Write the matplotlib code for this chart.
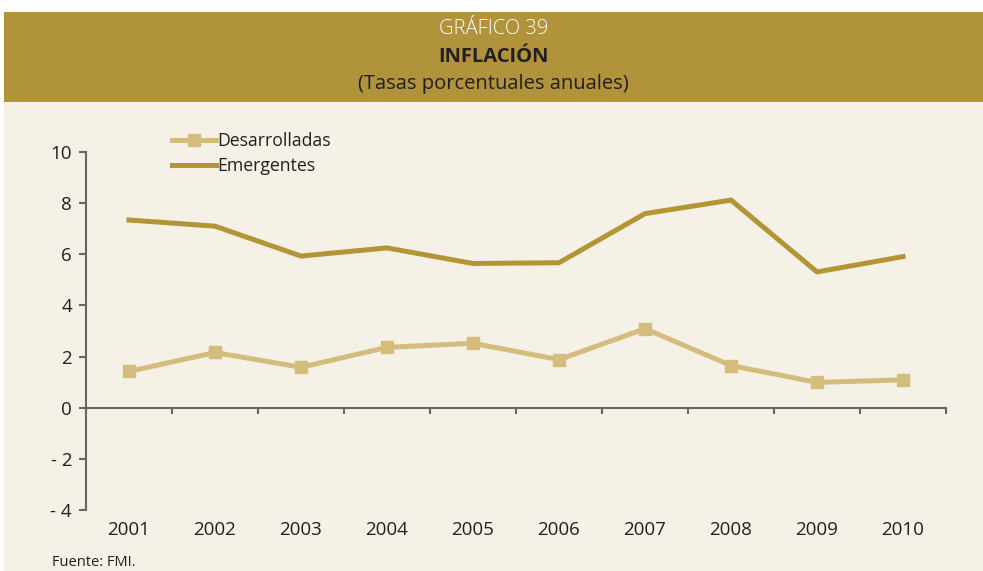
import matplotlib
matplotlib.use("Agg")
import matplotlib.pyplot as plt
from matplotlib.lines import Line2D
from matplotlib.patches import Rectangle

years = ["2001", "2002", "2003", "2004", "2005", "2006", "2007", "2008", "2009", "2010"]
desarrolladas = [1.42, 2.16, 1.58, 2.36, 2.52, 1.88, 3.09, 1.65, 0.99, 1.09]
emergentes = [7.34, 7.10, 5.93, 6.25, 5.64, 5.67, 7.59, 8.12, 5.31, 5.91]
y_ticks = [-4, -2, 0, 2, 4, 6, 8, 10]
y_labels = ["- 4", "- 2", "0", "2", "4", "6", "8", "10"]

BAND = "#B0933A"
BG = "#F5F1E6"
C_DES = "#D4BC7C"
C_EME = "#B39536"
AXIS = "#666666"
TXT = "#231F20"

plt.rcParams["font.family"] = ["Open Sans", "DejaVu Sans"]

W, H = 983, 571
fig = plt.figure(figsize=(W / 100, H / 100), dpi=100)
fig.patch.set_facecolor("white")

# fondo crema y banda del titulo (px -> fraccion de figura)
fig.add_artist(Rectangle((4 / W, 0), 1, 1 - 102 / H, transform=fig.transFigure,
                         facecolor=BG, edgecolor="none", zorder=0))
fig.add_artist(Rectangle((4 / W, 1 - 102 / H), 1, 90 / H, transform=fig.transFigure,
                         facecolor=BAND, edgecolor="none", zorder=0))

cx = 0.5 + 2 / W
fig.text(cx, 1 - 29 / H, "GRÁFICO 39", color="white", fontsize=14.5, fontweight="light",
         ha="center", va="center")
fig.text(cx, 1 - 57 / H, "INFLACIÓN", color=TXT, fontsize=14.5, fontweight="bold",
         ha="center", va="center")
fig.text(cx, 1 - 84 / H, "(Tasas porcentuales anuales)", color=TXT, fontsize=14.5,
         ha="center", va="center")

ax = fig.add_axes([86 / W, 1 - 510 / H, 860 / W, 358 / H])
ax.set_facecolor("none")
x = list(range(len(years)))

ax.plot(x, emergentes, color=C_EME, lw=3.6, zorder=3)
ax.plot(x, desarrolladas, color=C_DES, lw=3.6, marker="s", ms=8.5, mec=C_DES,
        mfc=C_DES, zorder=3)

ax.set_xlim(-0.5, len(years) - 0.5)
ax.set_ylim(-4, 10)

for s in ("top", "right"):
    ax.spines[s].set_visible(False)
ax.spines["left"].set_color(AXIS)
ax.spines["left"].set_linewidth(1.5)
ax.spines["bottom"].set_position(("data", 0))
ax.spines["bottom"].set_color(AXIS)
ax.spines["bottom"].set_linewidth(1.5)

ax.set_yticks(y_ticks)
ax.set_yticklabels(y_labels)
ax.tick_params(axis="y", direction="out", length=5, width=1.5, color=AXIS,
               labelsize=13.5, labelcolor=TXT, pad=5)

# ticks del eje x en los limites de cada categoria
ax.set_xticks([i - 0.5 for i in range(len(years) + 1)])
ax.set_xticklabels([])
ax.tick_params(axis="x", direction="out", length=4, width=1.5, color=AXIS)

for i, yr in enumerate(years):
    ax.text(i, -0.056, yr, transform=ax.get_xaxis_transform(), ha="center", va="center",
            fontsize=13.5, color=TXT)

handles = [
    Line2D([], [], color=C_DES, lw=3.6, marker="s", ms=8.5, mec=C_DES, mfc=C_DES),
    Line2D([], [], color=C_EME, lw=3.6),
]
ax.legend(handles, ["Desarrolladas", "Emergentes"], loc="upper left",
          bbox_to_anchor=(163 / W, 1 - 123 / H), bbox_transform=fig.transFigure,
          frameon=False, fontsize=12.7, handlelength=2.5, handletextpad=0.05,
          labelspacing=0.4, borderpad=0, labelcolor=TXT)

fig.text(52 / W, 1 - 562 / H, "Fuente: FMI.", fontsize=10.5, color=TXT, ha="left", va="center")

fig.savefig("out.png", dpi=100, facecolor=fig.get_facecolor())
